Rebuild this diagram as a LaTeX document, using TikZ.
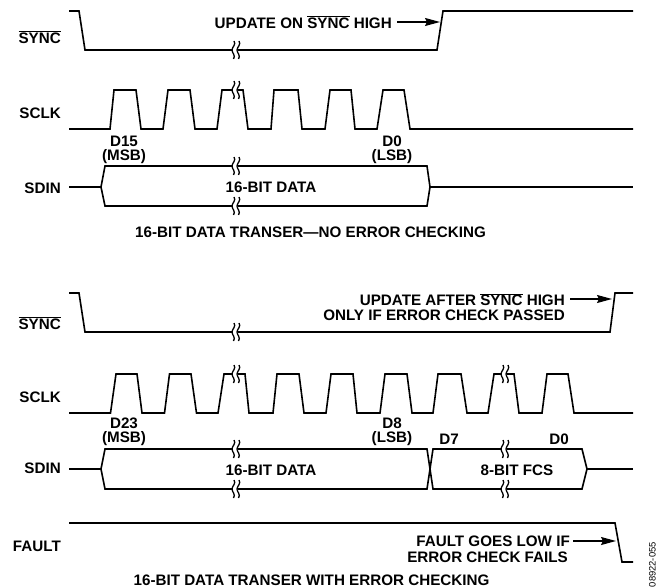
\documentclass[tikz,border=0pt]{standalone}
\usepackage{fontspec}
\setmainfont{Liberation Sans}
\usetikzlibrary{arrows.meta}
\tikzset{
  wave/.style={draw=black,line width=1.6pt,line join=miter},
  lbl/.style={font=\fontsize{15.2}{15.2}\selectfont\bfseries,inner sep=0pt,align=center,text=black},
  lblr/.style={lbl,anchor=east},
  lead/.style={draw=black,line width=1.2pt,-{Stealth[length=15pt,width=8pt,inset=2pt]}},
  brkline/.style={draw=black,line width=1.3pt},
  brkgap/.style={fill=white,draw=none}
}
\newcommand{\brk}[2]{%
  \fill[brkgap] (#1-2.5,#2+2) rectangle (#1+2.5,#2-2);
  \draw[brkline,shift={(#1,#2)}] (-1,-9) .. controls (1.5,-5.5) and (-3,-3) .. (-3,0) .. controls (-3,3) and (1,5.5) .. (-1.5,9);
  \draw[brkline,shift={(#1,#2)}] (4,-9) .. controls (6.5,-5.5) and (2,-3) .. (2,0) .. controls (2,3) and (6,5.5) .. (3.5,9);
}
\begin{document}
\begin{tikzpicture}[x=1pt,y=-1pt]
\useasboundingbox (0,0) rectangle (658,588);
% --- upper panel
\node[lblr] (synca) at (61,37) {$\overline{\mbox{SYNC}}$};
\node[lblr] (sclka) at (61,113) {SCLK};
\node[lblr] (sdina) at (61,188) {SDIN};
\draw[wave] (69,11) -- (79,11) -- (85,50) -- (437,50) -- (443,11) -- (633,11);
\draw[wave] (69,129) -- (110,129) -- (114,90) -- (136,90) -- (141,129) -- (163,129) -- (168,90) -- (190,90) -- (195,129) -- (217,129) -- (222,90) -- (239,90) -- (243,90) -- (248,129) -- (271,129) -- (274,90) -- (298,90) -- (302,129) -- (325,129) -- (330,90) -- (351,90) -- (355,129) -- (377,129) -- (383,90) -- (404,90) -- (410,129) -- (633,129);
\draw[wave] (69,187) -- (101,187) -- (105,166) -- (427,166) -- (430,187) -- (427,206) -- (105,206) -- (101,187);
\draw[wave] (430,187) -- (633,187);
\brk{235}{50}\brk{235}{90}\brk{235}{166}\brk{235}{206}
\node[lbl] (d15) at (124,141) {D15};
\node[lbl] (msb1) at (124,157) {(MSB)};
\node[lbl] (d0) at (392,141) {D0};
\node[lbl] (lsb1) at (392,157) {(LSB)};
\node[lbl] (data1) at (271,187) {16-BIT DATA};
\node[lbl] (title1) at (310.5,232) {16-BIT DATA TRANSER—NO ERROR CHECKING};
\node[lbl,anchor=east] (upd1) at (392,22) {UPDATE ON $\overline{\mbox{SYNC}}$ HIGH};
\coordinate (a1s) at (397,22);
\coordinate (a1e) at (440,22);
\draw[lead] (a1s) -- (a1e);
% --- lower panel
\node[lblr] (syncb) at (61,323) {$\overline{\mbox{SYNC}}$};
\node[lblr] (sclkb) at (61,397) {SCLK};
\node[lblr] (sdinb) at (61,468) {SDIN};
\node[lblr] (fault) at (61,546) {FAULT};
\draw[wave] (69,293) -- (79,293) -- (85,332) -- (610,332) -- (615,293) -- (633,293);
\draw[wave] (69,413) -- (110.5,413) -- (116,374) -- (137,374) -- (142,413) -- (164.5,413) -- (169.5,374) -- (191,374) -- (196.5,413) -- (218,413) -- (224,374) -- (245,374) -- (249,413) -- (273,413) -- (277,374) -- (299,374) -- (304,413) -- (326,413) -- (331,374) -- (353,374) -- (357,413) -- (380,413) -- (385,374) -- (407,374) -- (412,413) -- (433,413) -- (438,374) -- (461,374) -- (467,413) -- (488,413) -- (494,374) -- (514,374) -- (519,413) -- (542,413) -- (547,374) -- (568,374) -- (574,413) -- (633,413);
\draw[wave] (69,469) -- (101,469) -- (105,449) -- (427,449) -- (433,489) -- (582,489) -- (587,469) -- (582,449) -- (433,449) -- (427,489) -- (105,489) -- (101,469);
\draw[wave] (587,469) -- (633,469);
\draw[wave] (69,523) -- (615,523) -- (622,562) -- (633,562);
\brk{235}{332}\brk{235}{374}\brk{504}{374}\brk{235}{449}\brk{235}{489}\brk{504}{449}\brk{504}{489}
\node[lbl] (d23) at (124,423) {D23};
\node[lbl] (msb2) at (124,439) {(MSB)};
\node[lbl] (d8) at (392,423) {D8};
\node[lbl] (lsb2) at (392,439) {(LSB)};
\node[lbl] (d7) at (449,439) {D7};
\node[lbl] (d0b) at (559,439) {D0};
\node[lbl] (data2) at (271,470) {16-BIT DATA};
\node[lbl] (fcs) at (517,470) {8-BIT FCS};
\node[lbl,anchor=east] (upd2) at (565,299.5) {UPDATE AFTER $\overline{\mbox{SYNC}}$ HIGH};
\node[lbl,anchor=east] (upd3) at (565,315) {ONLY IF ERROR CHECK PASSED};
\coordinate (a2s) at (570,299);
\coordinate (a2e) at (612,299);
\draw[lead] (a2s) -- (a2e);
\node[lbl,anchor=east] (f1) at (570,541) {FAULT GOES LOW IF};
\node[lbl,anchor=east] (f2) at (568,557) {ERROR CHECK FAILS};
\coordinate (a3s) at (573,541);
\coordinate (a3e) at (616,541);
\draw[lead] (a3s) -- (a3e);
\node[lbl] (title2) at (311.5,580) {16-BIT DATA TRANSER WITH ERROR CHECKING};
\node[font=\fontsize{9.4}{9.4}\selectfont,inner sep=0pt,rotate=90,anchor=south west] (code) at (656,587.4) {08922-055};
\end{tikzpicture}
\end{document}
